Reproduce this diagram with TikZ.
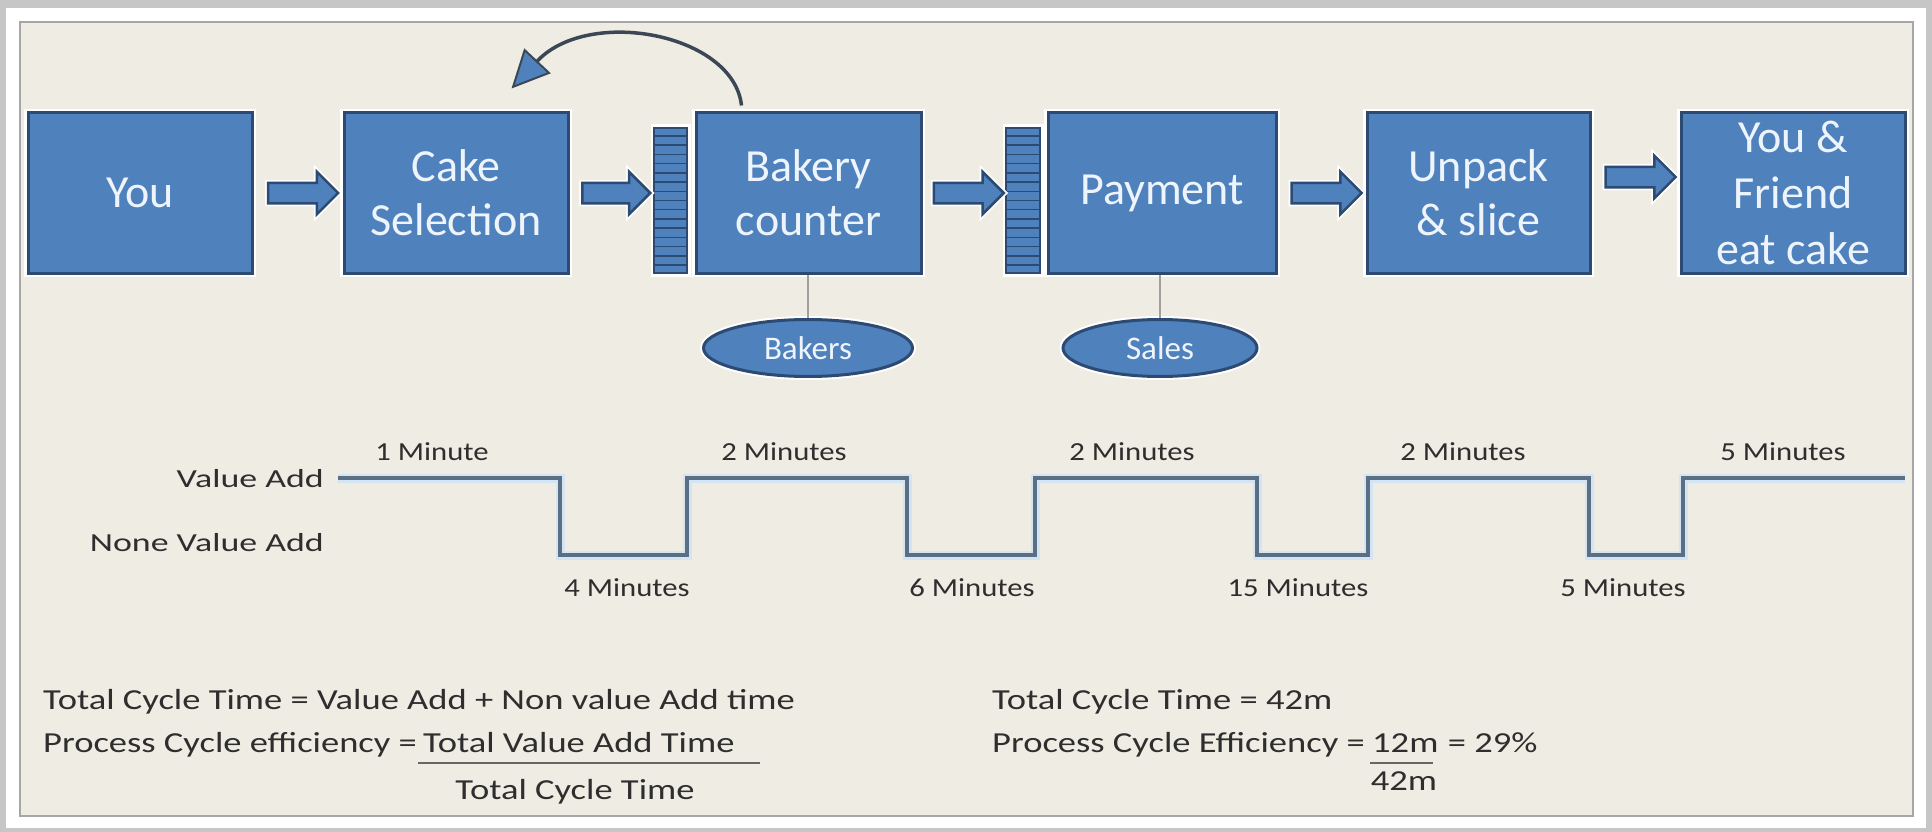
\documentclass[tikz,border=0pt]{standalone}
\usepackage{fontspec}
\setmainfont{Carlito}
\newfontfamily\widefont[FakeStretch=1.26]{Carlito}
\newfontfamily\lblfont[FakeStretch=1.38]{Carlito}
\newfontfamily\minfont[FakeStretch=1.18]{Carlito}
\usetikzlibrary{shapes.geometric,shapes.arrows,arrows.meta,calc}
\definecolor{panelbg}{HTML}{EFECE3}
\definecolor{outergray}{HTML}{C6C6C6}
\definecolor{boxblue}{HTML}{4F81BD}
\definecolor{boxdark}{HTML}{2D4A72}
\definecolor{boxtext}{HTML}{EEF4FB}
\definecolor{linegray}{HTML}{5B6E82}
\definecolor{glowblue}{HTML}{D3E5F4}
\definecolor{labelgray}{HTML}{2E2E2E}
\definecolor{curvegray}{HTML}{3C4756}
\tikzset{
  procbox/.style={rectangle, fill=boxblue, draw=boxdark, line width=3pt,
    preaction={draw=white, line width=8pt},
    minimum width=224pt, minimum height=160pt, inner sep=0pt,
    text=boxtext, align=center, font={\fontsize{46}{54}\selectfont}},
  queuebar/.style={rectangle, fill=boxblue, draw=boxdark, line width=2.5pt,
    preaction={draw=white, line width=7pt},
    minimum width=33pt, minimum height=145pt, inner sep=0pt},
  blockarr/.style={single arrow, fill=boxblue, draw=boxdark, line width=2.5pt,
    preaction={draw=white, line width=6pt},
    inner xsep=0pt, inner ysep=9pt, minimum height=70pt, minimum width=40pt,
    single arrow head extend=11pt},
  staff/.style={ellipse, fill=boxblue, draw=boxdark, line width=3pt,
    preaction={draw=white, line width=7pt},
    inner sep=0pt, minimum height=57pt, text=boxtext,
    font={\fontsize{33}{38}\selectfont}},
  tie/.style={draw=gray!75, line width=1.5pt},
  chartlbl/.style={text=labelgray, inner sep=0pt, font={\lblfont\fontsize{26}{30}\selectfont}},
  minlbl/.style={text=labelgray, inner sep=0pt, font={\minfont\fontsize{26}{30}\selectfont}},
  btxt/.style={text=labelgray, inner sep=0pt, font={\widefont\fontsize{29}{34}\selectfont}},
  uline/.style={draw=gray!80!black, line width=2pt},
  stepline/.style={draw=linegray, line width=4pt, line join=miter,
    preaction={draw=glowblue, line width=9pt}},
  loopline/.style={draw=curvegray, line width=3.5pt,
    -{Triangle[length=38pt,width=36pt,fill=boxblue,line width=2pt]}},
}
\begin{document}
\begin{tikzpicture}[x=1pt,y=-1pt]
\useasboundingbox (0,0) rectangle (1932,832);
% frame
\fill[outergray] (0,0) rectangle (1932,832);
\fill[white] (6,8) rectangle (1926,828);
\filldraw[fill=panelbg, draw=gray!70, line width=1.5pt] (20,22) rectangle (1913,816);

% process boxes
\node[procbox] (you) at (140,193) {You};
\node[procbox] (cake) at (456,193) {Cake\\Selection};
\node[queuebar] (q1) at (670.5,200.5) {};
\node[procbox, minimum width=225pt] (bakery) at (808.5,193) {Bakery\\counter};
\node[queuebar, minimum width=34pt] (q2) at (1023,200.5) {};
\node[procbox, minimum width=228pt] (payment) at (1162,193) {Payment};
\node[procbox, minimum width=223pt] (unpack) at (1478.5,193) {Unpack\\\& slice};
\node[procbox, font={\fontsize{46}{56}\selectfont}] (friend) at (1793,193) {You \&\\Friend\\eat cake};

% queue stripes
\foreach \q in {q1,q2}{
  \foreach \i in {1,...,15}{
    \draw[boxdark, line width=1.5pt]
      ($(\q.north west)!\i/16!(\q.south west)$) -- ($(\q.north east)!\i/16!(\q.south east)$);
  }
}

% block arrows
\path (you.east) -- node[blockarr] (a1) {} (cake.west);
\path (cake.east) -- node[blockarr, minimum height=68pt] (a2) {} (q1.west |- cake.east);
\path (bakery.east) -- node[blockarr] (a3) {} (q2.west |- bakery.east);
\path (payment.east) -- node[blockarr] (a4) {} (unpack.west);
\path ($(unpack.east)+(0,-16)$) -- node[blockarr] (a5) {} ($(friend.west)+(0,-16)$);

% rework loop
\coordinate (loopstart) at ($(bakery.north west)+(47,-6)$);
\coordinate (looptip) at ($(cake.north west)+(169,-23)$);
\draw[loopline] (loopstart) .. controls ($(loopstart)+(-8,-72)$) and ($(looptip)+(77,-82)$) .. (looptip);

% staff
\node[staff, minimum width=209pt] (bakers) at (808,348) {Bakers};
\node[staff, minimum width=194pt] (sales) at (1160,348) {Sales};
\draw[tie] (bakers.north) -- (bakers.north |- bakery.south);
\draw[tie] (sales.north) -- (sales.north |- payment.south);

% value stream timeline
\draw[stepline] (338,478) -- (560,478) -- (560,555) -- (687,555) -- (687,478)
  -- (907,478) -- (907,555) -- (1035,555) -- (1035,478) -- (1257,478)
  -- (1257,555) -- (1368,555) -- (1368,478) -- (1589,478) -- (1589,555)
  -- (1683,555) -- (1683,478) -- (1905,478);

\node[chartlbl, anchor=east] (va) at (324,479) {Value Add};
\node[chartlbl, anchor=east] (nva) at (324,543) {None Value Add};
\node[minlbl] (t1) at (432,452) {1 Minute};
\node[minlbl] (t2) at (784,452) {2 Minutes};
\node[minlbl] (t3) at (1132,452) {2 Minutes};
\node[minlbl] (t4) at (1463,452) {2 Minutes};
\node[minlbl] (t5) at (1783,452) {5 Minutes};
\node[minlbl] (w1) at (627,588) {4 Minutes};
\node[minlbl] (w2) at (972,588) {6 Minutes};
\node[minlbl] (w3) at (1298,588) {15 Minutes};
\node[minlbl] (w4) at (1623,588) {5 Minutes};

% formulas
\node[btxt, anchor=base west] (f1) at (43,709) {Total Cycle Time = Value Add + Non value Add time};
\node[btxt, anchor=base west] (f2) at (43,752) {Process Cycle efficiency =};
\node[btxt, anchor=base west] (f2num) at (423,752) {Total Value Add Time};
\draw[uline] ($(f2num.base west)+(-5,11)$) -- ($(f2num.base east)+(25,11)$);
\node[btxt, anchor=base] (f2den) at (575,799) {Total Cycle Time};

\node[btxt, anchor=base west] (g1) at (992,709) {Total Cycle Time = 42m};
\node[btxt, anchor=base west] (g2) at (992,752) {Process Cycle Efficiency =};
\node[btxt, anchor=base west] (g2num) at (1372,752) {12m};
\node[btxt, anchor=base west] (g2res) at ($(g2num.base east)+(9,0)$) {= 29\%};
\draw[uline] ($(g2num.base west)+(-2,11)$) -- ($(g2num.base east)+(-6,11)$);
\node[btxt, anchor=base] (g2den) at (1404,790) {42m};
\end{tikzpicture}
\end{document}
